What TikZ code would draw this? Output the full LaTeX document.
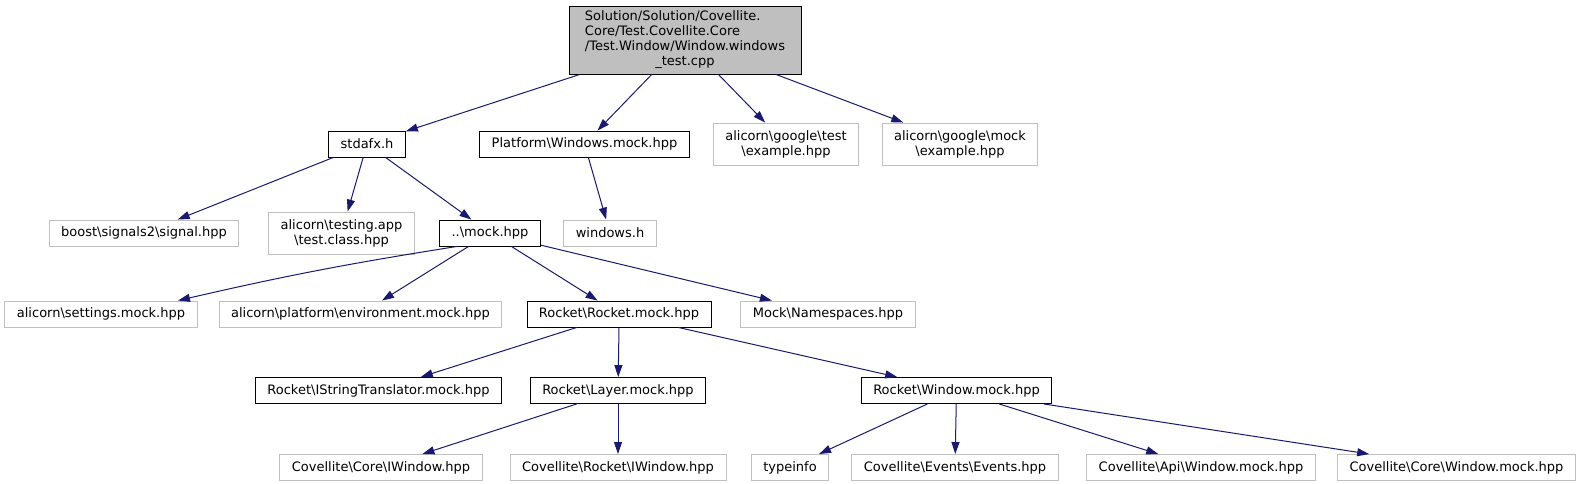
\documentclass[tikz,border=0pt]{standalone}
\usepackage{fontspec}
\setmainfont{DejaVu Sans}
\usetikzlibrary{arrows.meta}
\definecolor{edgeblue}{HTML}{191970}
\definecolor{boxgrey}{HTML}{BFBFBF}
\newcommand{\bsl}{\textbackslash}

\begin{document}
\begin{tikzpicture}[
      x = 1pt, y = -1pt, font = \fontsize{13}{15}\selectfont,
      base/.style = {inner xsep = 12pt, inner ysep = 0pt, minimum height = 26pt,
                     line width = .9pt, fill = white},
      own/.style  = {base, draw = black},
      ext/.style  = {base, draw = boxgrey},
      two/.style  = {align = center, minimum height = 42pt},
      root/.style = {base, draw = black, fill = boxgrey, inner xsep = 11pt,
                     minimum width = 232pt, minimum height = 68pt},
      dep/.style  = {draw = edgeblue, line width = 1pt,
                     -{Triangle[length = 12pt, width = 8pt]}}
    ]
  \useasboundingbox (0,0) rectangle (1585,484);

  % ---------- the test file ---------------------------------------------
  \node[root] (main) at (685,40)
        {\begin{tabular}{@{}l@{}}
           Solution/Solution/Covellite.\\
           Core/Test.Covellite.Core\\
           /Test.Window/Window.windows\\
           \multicolumn{1}{@{}c@{}}{\_test.cpp}
         \end{tabular}};

  % ---------- first level -----------------------------------------------
  \node[own] (stdafx)   at (367,144)   {stdafx.h};
  \node[own] (platform) at (584.5,144) {Platform\bsl Windows.mock.hpp};
  \node[ext, two] (gtest) at (786,144) {alicorn\bsl google\bsl test\\\bsl example.hpp};
  \node[ext, two] (gmock) at (960,144) {alicorn\bsl google\bsl mock\\\bsl example.hpp};

  % ---------- second level ----------------------------------------------
  \node[ext] (boost)      at (144,233)   {boost\bsl signals2\bsl signal.hpp};
  \node[ext, two] (testapp) at (341.5,233) {alicorn\bsl testing.app\\\bsl test.class.hpp};
  \node[own] (mock)       at (490,233)   {..\bsl mock.hpp};
  \node[ext] (windowsh)   at (610,233)   {windows.h};

  % ---------- third level -----------------------------------------------
  \node[ext] (settings)   at (101,314)   {alicorn\bsl settings.mock.hpp};
  \node[ext] (env)        at (360.5,314) {alicorn\bsl platform\bsl environment.mock.hpp};
  \node[own] (rocket)     at (619,314)   {Rocket\bsl Rocket.mock.hpp};
  \node[ext] (namespaces) at (828,314)   {Mock\bsl Namespaces.hpp};

  % ---------- fourth level ----------------------------------------------
  \node[own] (istring) at (378.5,390.5) {Rocket\bsl IStringTranslator.mock.hpp};
  \node[own] (layer)   at (618,390.5)   {Rocket\bsl Layer.mock.hpp};
  \node[own] (rwindow) at (956.5,390.5) {Rocket\bsl Window.mock.hpp};

  % ---------- fifth level -----------------------------------------------
  \node[ext] (coreiwin)   at (381,467.5)    {Covellite\bsl Core\bsl IWindow.hpp};
  \node[ext] (rocketiwin) at (618,467.5)    {Covellite\bsl Rocket\bsl IWindow.hpp};
  \node[ext] (typeinfo)   at (790,467.5)    {typeinfo};
  \node[ext] (events)     at (955,467.5)    {Covellite\bsl Events\bsl Events.hpp};
  \node[ext] (apiwin)     at (1201,467.5)   {Covellite\bsl Api\bsl Window.mock.hpp};
  \node[ext] (corewin)    at (1456.5,467.5) {Covellite\bsl Core\bsl Window.mock.hpp};

  % ---------- includes --------------------------------------------------
  \draw[dep] (main) -- (stdafx);
  \draw[dep] (main) -- (platform);
  \draw[dep] (main) -- (gtest);
  \draw[dep] (main) -- (gmock);

  \draw[dep] (stdafx) -- (boost);
  \draw[dep] (stdafx) -- (testapp);
  \draw[dep] (stdafx) -- (mock);
  \draw[dep] (platform) -- (windowsh);

  \draw[dep] ([xshift = -33pt]mock.south) to[bend right = 2] ([xshift = 77pt]settings.north);
  \draw[dep] (mock) -- (env);
  \draw[dep] (mock) -- (rocket);
  \draw[dep] (mock) -- (namespaces);

  \draw[dep] (rocket) -- (istring);
  \draw[dep] (rocket.south) -- (layer);
  \draw[dep] (rocket) -- (rwindow);

  \draw[dep] (layer) -- (coreiwin);
  \draw[dep] (layer) -- (rocketiwin);

  \draw[dep] (rwindow) -- (typeinfo);
  \draw[dep] (rwindow) -- (events);
  \draw[dep] (rwindow) -- (apiwin);
  \draw[dep] (rwindow) -- (corewin);

\end{tikzpicture}
\end{document}
